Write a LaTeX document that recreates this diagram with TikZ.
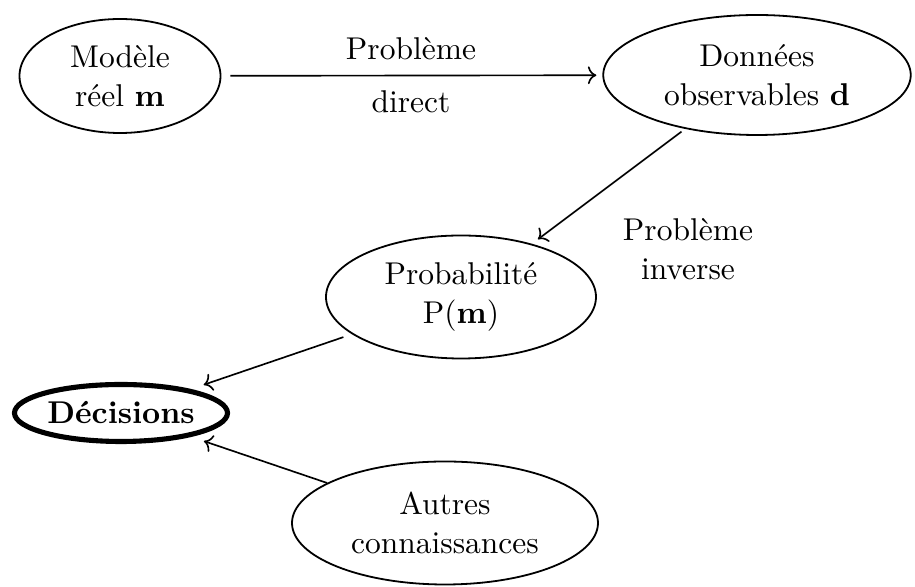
\documentclass[tikz,border=0pt]{standalone}
\usetikzlibrary{shapes.geometric,arrows.meta}
\begin{document}
\begin{tikzpicture}[x=0.33333pt,y=-0.33333pt,
  font=\fontsize{10.5}{12.8}\selectfont,
  ell/.style={ellipse,draw,line width=0.6pt,inner sep=0pt,align=center},
  conn/.style={->,line width=0.55pt},
  lbl/.style={align=center,inner sep=0pt}]
\useasboundingbox (0,0) rectangle (915,587);
\node[ell,minimum width=67pt,minimum height=38pt] (mod) at (120,76) {Modèle\\réel \textbf{m}};
\node[ell,minimum width=102.5pt,minimum height=40pt] (don) at (757,75) {Données\\observables \textbf{d}};
\node[ell,minimum width=90pt,minimum height=41pt] (prob) at (461,297) {Probabilité\\P(\textbf{m})};
\node[ell,line width=1.7pt,minimum width=71pt,minimum height=19pt] (dec) at (121,413) {\textbf{Décisions}};
\node[ell,minimum width=102pt,minimum height=41pt] (aut) at (445,523) {Autres\\connaissances};
\node[lbl] (l1) at (411,49) {Problème};
\node[lbl] (l2) at (411,102) {direct};
\node[lbl] (l3) at (688,249) {Problème\\inverse};
\draw[conn,shorten <=3pt,shorten >=2pt] (mod) -- (don);
\draw[conn,shorten <=1.5pt,shorten >=2.5pt] (don) -- (prob);
\draw[conn,shorten <=3pt,shorten >=4.5pt] (prob) -- (dec);
\draw[conn,shorten <=0pt,shorten >=4.5pt] (aut) -- (dec);
\end{tikzpicture}
\end{document}
